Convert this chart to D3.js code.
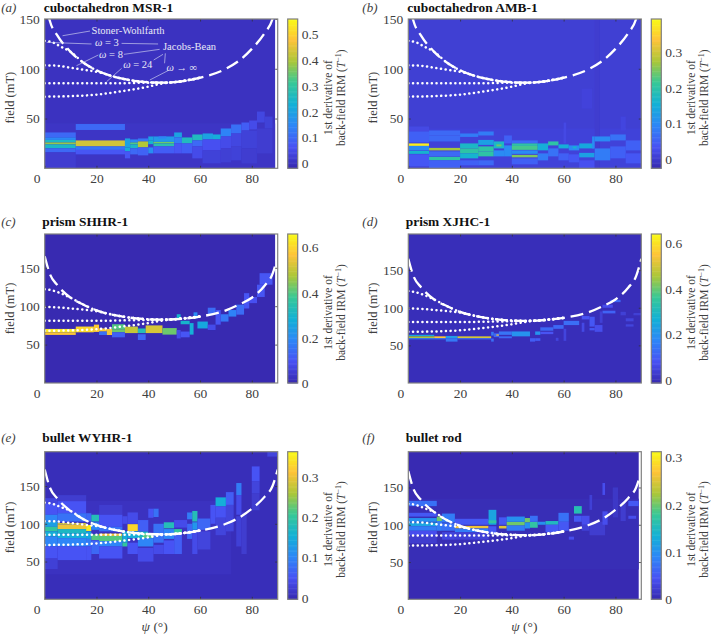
<!DOCTYPE html>
<html>
<head>
<meta charset="utf-8">
<script src="https://cdn.jsdelivr.net/npm/d3@7"></script>
<style>
  body { margin: 0; background: #fff; }
  text { font-family: "Liberation Serif", serif; fill: #404040; }
</style>
</head>
<body>
<div id="chart"></div>
<script>
// psi from, psi to, field from, field to, value
var cellsA = [
  [0,89,0,150,0],[0,89,0,45,0.006],
  [0,12,31,36,0.1],[0,12,28.5,31,0.15],[0,12,26,28.5,0.25],[0,12,24,26,0.38],[0,12,20,24,0.25],[0,12,16,20,0.1],[0,12,0,16,0.02],
  [12,31,38.5,44.5,0.1],[12,31,22,28,0.43],[12,31,18.5,22,0.12],[12,31,14,18.5,0.07],
  [31,33,21,30,0.2],[31,33,17,21,0.22],[31,33,10,17,0.07],
  [33,36,26,29,0.15],[33,36,24,26,0.33],[33,36,20,24,0.25],[33,36,14,20,0.1],
  [36,40,27,30,0.12],[36,40,21,27,0.4],[36,40,13,21,0.09],
  [40,42,28,32,0.2],[40,42,24,28,0.24],[40,42,21,24,0.02],[40,42,15,21,0.16],
  [42,50,26.5,32,0.18],[42,50,25,26.5,0.35],[42,50,22,25,0.28],[42,50,15,22,0.08],
  [44,47,30,32,0.14],
  [50,53,31,36,0.2],[50,53,25,31,0.13],[50,53,15,25,0.07],
  [53,57,25,31,0.26],[53,57,15,25,0.08],
  [57,61,28,34,0.26],[57,61,22,28,0.1],[57,61,10,22,0.05],
  [61,65,29,35,0.2],[65,68,29,34,0.22],[61,68,18,29,0.06],[61,68,5,18,0.03],
  [68,72,32,40,0.14],[68,72,20,32,0.05],[68,72,6,20,0.025],
  [72,76,35,44,0.11],[72,76,22,35,0.04],[72,76,8,22,0.03],
  [76,79,38,46,0.08],[79,82,39,48,0.05],[76,82,20,38,0.03],[76,82,5,20,0.02],
  [82,85,46,57,0.04],[85,88,40,52,0.03],[82,88,15,40,0.02]
];
var cellsB = [
  [0,90,0,150,0.005],[0,90,0,40,0.01],
  [0,8,37,42,0.02],[0,8,26,37,0.05],[0,8,22.5,25,0.38],[0,8,18,22.5,0.1],[0,8,14.5,17.5,0.16],[0,8,2,14,0.04],
  [8,20,33,38,0.06],[8,20,27,33,0.06],[8,20,18,20.5,0.27],[8,20,12,17,0.06],[8,20,8,11.5,0.2],[8,20,0,8,0.05],
  [20,27,31.5,35,0.08],[20,27,20,25,0.17],[20,27,15,20,0.2],[20,27,10,15,0.16],[20,27,3,8,0.05],
  [27,33,33,37,0.08],[27,33,23.5,28.5,0.13],[27,33,17,22,0.2],[27,33,12,17,0.2],[27,33,3,8,0.06],
  [33,37,20,27,0.17],[33,37,12,18,0.1],[34,36,22,24,0.24],
  [37,40,25,33,0.05],[37,40,12,23,0.1],
  [40,50,25,28,0.06],[40,50,22.5,25,0.2],[40,50,18.5,22.5,0.22],[40,50,14.5,18,0.1],[40,50,11,13.5,0.25],[40,50,4,10,0.05],
  [50,54,18,25,0.15],[50,54,8,15,0.08],
  [54,58,23,27,0.2],[54,58,12,20,0.07],
  [58,62,20,24,0.15],[58,62,8,15,0.05],[60,61,25,46,0.02],
  [62,66,18,23,0.1],[63.5,65,20,22,0.16],[62,66,6,14,0.04],
  [66,72,20,25,0.14],[66,72,11,15.5,0.13],[66,72,0,8,0.03],[67,71,60,80,0.012],
  [71,73,20,32,0.1],[72,74,0,150,0.001],[72,78,27,32,0.1],[72,78,8,20,0.08],
  [78,84,28,34,0.07],[78,84,10,22,0.05],
  [84,90,18,28,0.05],[84,90,5,15,0.04],[82,84,38,52,0.015]
];
var cellsC = [
  [0,89,0,194,0.002],
  [0,12,65.7,70.4,0.63],[0,12,62.6,65.7,0.56],
  [12,19,66,73.5,0.6],[19,21,66.5,76,0.58],[21,24,67,71,0.58],[21,24,62.5,67,0.15],[24,26,62.5,70.5,0.55],
  [26,31,70,76.5,0.4],[26,31,66,70,0.42],[26,31,59.5,66,0.12],
  [31,36,65,73.5,0.5],[36,39,65,71,0.33],[36,39,56,63.5,0.13],
  [39,45.5,65,75,0.52],[45.5,51,63,71.5,0.42],
  [51,52.5,82,89.5,0.3],[51,52.5,58,69,0.08],[52.5,56,76.5,81,0.3],[52.5,56,59.5,67,0.1],
  [56,57.5,63,78,0.28],[57.5,59,84,92,0.2],[59,63,71,80,0.26],
  [63,66,89.5,98,0.14],[63,66,69,76,0.08],[66,68,76,95,0.1],
  [68,71,80,89.5,0.16],[71,74,86.5,95,0.18],[74,77,89,102,0.14],
  [77,79,97,117,0.1],[79,82,104,112,0.09],[82,85,112,128,0.1],[83,88,128,143,0.1]
];
var cellsD = [
  [0,90,0,198,0],
  [0,10,62.5,64,0.25],[0,10,59.5,62,0.45],[0,10,58,59.5,0.15],
  [10,14.5,59.5,62,0.55],[10,14.5,58,59.5,0.15],
  [14.5,19,59.5,62.5,0.22],[14.5,19,55,59.5,0.15],
  [19,32,59.5,62,0.5],[19,32,58,59.5,0.13],
  [32,33,63,68,0.15],[32,33,55,59,0.13],[33,35,61,66,0.12],[34,35,63,64.5,0.55],
  [35,40,64,68.5,0.14],[35,40,59.5,62,0.12],[40,47,62,68.5,0.2],
  [47,49,55,59.5,0.1],[49,51,64,68.5,0.2],[49,51,56,59.5,0.1],
  [51,56,69.5,74,0.12],[51,56,65,68,0.08],[56,60,72,77,0.12],[57,58,56,60,0.05],[60,66,77,82.5,0.13],[60,61,56,72,0.05],
  [67,70,84.5,89,0.08],[67,68,68,80,0.06],[70,72,75,88,0.09],[72,75,68,77,0.07],[70,72,70,73,0.09],
  [75,80,92.5,96,0.11],[75,79,100,104,0.07],[78,82,107.5,110.5,0.12],[74,75,80,95,0.04],
  [82,84,90,94.5,0.04],[84,87,75,78,0.05],[84,87,82,86,0.05],[87,90,90,93,0.04]
];
var cellsE = [
  [0,90,0,195.5,0.003],[0,72,33,130,0.008],
  [0,5,127,134,0.03],[0,5,112,127,0.05],[0,5,103,112,0.1],[0,5,96,103,0.13],[0,5,90,96,0.2],[0,5,83,90,0.15],[0,5,70,83,0.1],[0,5,54,70,0.05],[0,5,40,54,0.025],
  [5,16,130,138,0.02],[5,16,114,130,0.05],[5,16,103,114,0.08],[5,16,99,101,0.28],[5,16,93,99,0.3],[5,16,87,93,0.17],[5,16,81,87,0.15],[5,16,70,81,0.1],[5,16,52,70,0.05],
  [16,18,103,114,0.07],[16,18,90.5,98.5,0.35],[16,18,80,90,0.14],[16,18,70,80,0.09],[16,18,52,70,0.05],
  [18,21,103,112,0.18],[18,21,92,102,0.1],[18,21,78.5,86,0.22],[18,21,60,78,0.07],
  [21,30,112,125,0.02],[21,30,96,112,0.05],[21,30,90,96,0.08],[21,30,84,87,0.32],[21,30,77,84,0.22],[21,30,70,77,0.1],[21,30,54,70,0.05],
  [30,32,75,90,0.15],[30,32,70,75,0.2],[30,32,100,110,0.04],
  [32,36,90.5,99.5,0.33],[32,36,81,90,0.15],[32,36,100,115,0.04],[32,36,60,75,0.05],
  [36,40,81,90,0.17],[38,42,81,87,0.22],[36,42,70,81,0.1],[36,40,90,105,0.06],[36,42,50,68,0.04],
  [40,42,108,120,0.05],[42,44,109,120,0.08],[42,46,75,100,0.08],[42,46,60,72,0.04],
  [46,50,94,102,0.18],[46,50,80,93,0.1],[46,50,60,78,0.05],
  [50,53,87,93,0.2],[50,53,60,87,0.06],[50,55,95,105,0.04],
  [55,57,106,115,0.09],[55,57,80,100,0.07],[57,59,103,117,0.18],[57,59,92,102,0.12],[57,59,60,92,0.04],
  [59,64,92,107,0.07],[59,64,66,90,0.03],[64,66,100,125,0.05],
  [66,70,123,135,0.15],[66,70,108,123,0.05],[66,70,85,108,0.03],
  [70,73,125,142,0.06],[70,73,90,125,0.03],[74,76,138,154,0.09],[74,76,112,138,0.04],[74,76,70,110,0.025],
  [76,78,60,115,0.02],[80,83,156,176,0.05],[80,83,140,156,0.03],[80,83,118,140,0.02],[86,90,189,195.5,0.03]
];
var cellsF = [
  [0,89,0,198,0.001],[0,89,40,135,0.004],
  [0,11,125,132,0.07],[0,11,111,116,0.05],[0,11,104,109,0.1],[0,11,98,103,0.12],[0,11,92,98,0.08],[0,11,86,92,0.04],[0,11,75,86,0.02],
  [11,13,105,111,0.2],[11,13,92,105,0.08],[13,18,103,115,0.08],[13,18,92,102,0.07],[13,18,80,90,0.03],
  [18,31,95,98.5,0.26],[18,31,100,108,0.05],[18,31,90,95,0.08],[18,31,80,90,0.025],
  [31,34,100,120,0.12],[31,34,102,106,0.17],[31,34,88,98,0.05],
  [35,38,95,98.5,0.25],[35,38,100,110,0.05],[38,45,99,104,0.2],[38,45,104,111,0.1],[38,45,92,99,0.08],
  [45,47,103,109,0.2],[45,47,95,103,0.1],[47,50,96,104,0.17],[47,50,104,112,0.07],[50,53,100,104,0.1],
  [53,58,100,105,0.15],[53,58,90,100,0.05],[58,62,104,116,0.07],[58,62,92,104,0.05],
  [62,64,80,84,0.04],[64,67,115,125,0.16],[64,67,104,112,0.05],[67,70,100,112,0.04],[67,70,92,100,0.025],
  [70,76,86,104,0.02],[75,76,140,156,0.04],[70,71,120,140,0.025],[79,81,110,150,0.015],[82,84,105,130,0.02],
  [85,89,125,132,0.05],[85,88,108,112,0.04],[75,77,100,118,0.04]
];

// Stoner-Wohlfarth and Jacobs-Bean curves, [psi, field mT]
var swLarge = [[0,172],[2,148],[5,133],[10,117],[15,106],[20,98.5],[30,90],[40,86.5],[45,86],[50,86.5],[60,91],[70,100],[75,108],[80,120],[85,136],[88,150],[90,172]];
var w3Large = [[0,128],[3,126.5],[6,122.5],[10,117],[15,106],[20,98.5],[30,90],[40,86.5],[45,86],[50,86.5],[60,91]];
var w8Large = [[0,103.5],[5,103],[10,101],[15,99],[20,97],[30,90],[40,86.5],[45,86],[50,86.5],[60,91]];
var w24Large = [[0,85.5],[10,85.5],[20,85.5],[30,85.5],[38,86],[45,86],[50,86.5],[60,91]];
var wInfLarge = [[0,72],[10,72.5],[20,74],[30,77.5],[40,82],[45,85],[50,86.5],[60,91]];
var swSmall = [[0,165],[2,142],[5,127],[10,111],[15,102],[20,94.5],[30,86.5],[40,83],[45,82.5],[50,83],[60,86.5],[70,94.5],[75,102],[80,111],[85,127],[88,142],[90,165]];
var w3Small = [[0,122],[3,120.5],[6,117],[10,111],[15,102],[20,94.5],[30,86.5],[40,83],[45,82.5],[50,83],[60,86.5]];
var w8Small = [[0,99],[5,98.5],[10,97],[15,95.5],[20,93.5],[30,86.5],[40,83],[45,82.5],[50,83],[60,86.5]];
var w24Small = [[0,81],[10,81],[20,81],[30,81.5],[38,82],[45,82.5],[50,83],[60,86.5]];
var wInfSmall = [[0,68],[10,68.5],[20,70],[30,73.5],[40,78],[45,81],[50,83],[60,86.5]];

var panels = [
  {letter:"a", title:"cuboctahedron MSR-1", cells:cellsA, fieldMax:150, cRange:[-0.019,0.559], cTicks:[0,0.1,0.2,0.3,0.4,0.5], sw:swLarge, dots:[w3Large,w8Large,w24Large,wInfLarge]},
  {letter:"b", title:"cuboctahedron AMB-1", cells:cellsB, fieldMax:150, cRange:[-0.026,0.393], cTicks:[0,0.1,0.2,0.3], sw:swLarge, dots:[w3Large,w8Large,w24Large,wInfLarge]},
  {letter:"c", title:"prism SHHR-1", cells:cellsC, fieldMax:194, cRange:[0,0.66], cTicks:[0,0.2,0.4,0.6], sw:swSmall, dots:[w3Small,w8Small,w24Small,wInfSmall]},
  {letter:"d", title:"prism XJHC-1", cells:cellsD, fieldMax:198, cRange:[-0.012,0.639], cTicks:[0,0.2,0.4,0.6], sw:swSmall, dots:[w3Small,w8Small,w24Small,wInfSmall]},
  {letter:"e", title:"bullet WYHR-1", cells:cellsE, fieldMax:195.5, cRange:[-0.004,0.364], cTicks:[0,0.1,0.2,0.3], sw:swLarge, dots:[w3Large,w8Large,w24Large,wInfLarge]},
  {letter:"f", title:"bullet rod", cells:cellsF, fieldMax:198, cRange:[0,0.312], cTicks:[0,0.1,0.2,0.3], sw:swLarge, dots:[w3Large,w8Large,w24Large,wInfLarge]}
];

// labels and leader lines of panel (a), in psi / field units
var noteLabels = [
  {text:"Stoner-Wohlfarth", psi:18.1, field:135.4},
  {omega:" = 3", psi:19.4, field:122.5},
  {omega:" = 8", psi:21, field:110.5},
  {text:"Jacobs-Bean", psi:45.7, field:118.8},
  {omega:" = 24", psi:30.3, field:100.4},
  {omega:" → ∞", psi:47, field:98}
];
var noteLines = [
  [6.9,133.2,17.5,137.9],[0.8,126.5,18.1,124.9],[29.7,125.5,43.8,124.9],
  [12.3,103.1,20.7,113.8],[30.6,114.5,44.4,119.5],[23.9,87,29.7,100.4],
  [42.1,108.8,45.7,114.5],[40.6,88.7,47.6,98.1],[46.6,115.5,46.3,105.5]
];

// parula
var parulaStops = ["#372ab0","#4852f4","#2d87f7","#12b1d6","#37c897","#abc739","#fec338","#f9fb15"];

var colLeft = [44.7, 408.3], rowTop = [19, 234, 451.7], rowBottom = [168.3, 383, 599.3];
var fieldLabelShift = [4, 0, 2], titleRise = [7.5, 8.5, 10], titleInset = [1, 2.5, 2.5], letterInset = [43.5, 46], xLabelShift = [-6.5, -0.5];
var plotW = 233, cbGap = 10, cbW = 10;

var svg = d3.select("#chart").append("svg").attr("width", 711).attr("height", 635);
// the source is a soft raster
svg.append("defs").append("filter").attr("id", "soft")
  .attr("x", "-2%").attr("y", "-2%").attr("width", "104%").attr("height", "104%")
  .append("feGaussianBlur").attr("stdDeviation", 0.5);
var parula = d3.scaleLinear().domain(d3.range(parulaStops.length).map(function (i) { return i / (parulaStops.length - 1); })).range(parulaStops);

panels.forEach(function (p, i) {
  var row = Math.floor(i / 2), col = i % 2;
  var left = colLeft[col], top = rowTop[row], bottom = rowBottom[row];
  var x = d3.scaleLinear().domain([0, 90]).range([left, left + plotW]);
  var y = d3.scaleLinear().domain([0, p.fieldMax]).range([bottom, top]);
  var c = d3.scaleLinear().domain(p.cRange).range([0, 1]);
  var g = svg.append("g");

  g.append("clipPath").attr("id", "clip" + i).append("rect")
    .attr("x", left).attr("y", top).attr("width", plotW).attr("height", bottom - top);

  var clipped = g.append("g").attr("clip-path", "url(#clip" + i + ")");
  clipped.append("g").attr("filter", "url(#soft)").selectAll("rect").data(p.cells).enter().append("rect")
    .attr("x", function (d) { return x(d[0]); })
    .attr("width", function (d) { return x(d[1]) - x(d[0]); })
    .attr("y", function (d) { return y(d[3]); })
    .attr("height", function (d) { return y(d[2]) - y(d[3]); })
    .attr("fill", function (d) { return parula(c(d[4])); });

  // curves
  var line = d3.line().x(function (d) { return x(d[0]); }).y(function (d) { return y(d[1]); }).curve(d3.curveMonotoneX);
  clipped.append("path").attr("d", line(p.sw)).attr("fill", "none").attr("stroke", "#fff")
    .attr("stroke-width", 2.3).attr("stroke-dasharray", "13,6");
  p.dots.forEach(function (w) {
    clipped.append("path").attr("d", line(w)).attr("fill", "none").attr("stroke", "#fff")
      .attr("stroke-width", 2.5).attr("stroke-linecap", "round").attr("stroke-dasharray", "0.1,4.6");
  });

  // axes, ticks point inward on all sides
  var xTicks = [0, 20, 40, 60, 80], yTicks = [50, 100, 150];
  var frame = function (sel) {
    sel.select(".domain").remove();
    sel.selectAll("line").attr("stroke", "#333").attr("stroke-width", 0.8);
    sel.selectAll("text").attr("font-size", 13.5).style("fill", "#404040");
  };
  var bx = g.append("g").attr("transform", "translate(0," + bottom + ")")
    .call(d3.axisBottom(x).tickValues(xTicks).tickSize(-2.5).tickPadding(5.5).tickFormat(d3.format("d"))).call(frame);
  bx.selectAll("text").attr("dx", function (d) { return d === 0 ? -8 : 0; });
  g.append("g").attr("transform", "translate(0," + top + ")")
    .call(d3.axisTop(x).tickValues(xTicks.slice(1)).tickSize(-2.5).tickFormat("")).call(frame);
  g.append("g").attr("transform", "translate(" + left + ",0)")
    .call(d3.axisLeft(y).tickValues(yTicks).tickSize(-2.5).tickPadding(5)).call(frame);
  g.append("g").attr("transform", "translate(" + (left + plotW) + ",0)")
    .call(d3.axisRight(y).tickValues(yTicks).tickSize(-2.5).tickFormat("")).call(frame);
  g.append("rect").attr("x", left).attr("y", top).attr("width", plotW).attr("height", bottom - top)
    .attr("fill", "none").attr("stroke", "#808080").attr("stroke-width", 1.2);

  // titles
  g.append("text").attr("x", left - titleInset[row]).attr("y", top - titleRise[row]).attr("font-size", 13.4).attr("font-weight", "bold").style("fill", "#111").text(p.title);
  g.append("text").attr("x", left - letterInset[col]).attr("y", top - titleRise[row]).attr("font-size", 13).attr("font-style", "italic").text("(" + p.letter + ")");
  g.append("text").attr("transform", "translate(" + (left - 31) + "," + ((top + bottom) / 2 + fieldLabelShift[row]) + ") rotate(-90)")
    .attr("text-anchor", "middle").attr("font-size", 12.5).text("field (mT)");
  if (i >= 4) {
    var xl = g.append("text").attr("x", x(45) + xLabelShift[col]).attr("y", 631).attr("text-anchor", "middle").attr("font-size", 13.5);
    xl.append("tspan").attr("font-style", "italic").text("ψ");
    xl.append("tspan").text(" (°)");
  }

  // colour bar
  var cbX = left + plotW + cbGap;
  var cy = d3.scaleLinear().domain(p.cRange).range([bottom, top]);
  var steps = d3.range(0, 1, 1 / 120);
  g.selectAll("rect.step").data(steps).enter().append("rect").attr("class", "step")
    .attr("x", cbX).attr("width", cbW)
    .attr("y", function (d) { return bottom - (d + 1 / 120) * (bottom - top); })
    .attr("height", (bottom - top) / 120 + 0.5)
    .attr("fill", function (d) { return parula(d); });
  g.append("g").attr("transform", "translate(" + (cbX + cbW) + ",0)")
    .call(d3.axisRight(cy).tickValues(p.cTicks).tickSize(0).tickPadding(4).tickFormat(function (d) { return d === 0 ? "0" : d3.format(".1f")(d); })).call(frame);
  g.append("rect").attr("x", cbX).attr("y", top).attr("width", cbW).attr("height", bottom - top)
    .attr("fill", "none").attr("stroke", "#808080").attr("stroke-width", 1.2);
  var lab = g.append("text").attr("transform", "translate(" + (cbX + 44) + "," + ((top + bottom) / 2 + 4) + ") rotate(-90)")
    .attr("text-anchor", "middle").attr("font-size", 11.5);
  lab.append("tspan").text("1st derivative of");
  var l2 = lab.append("tspan").attr("x", 0).attr("dy", 13);
  l2.append("tspan").text("back-field IRM (");
  l2.append("tspan").attr("font-style", "italic").text("T");
  l2.append("tspan").attr("dy", -4).attr("font-size", 8).text("−1");
  l2.append("tspan").attr("dy", 4).text(")");

  if (i === 0) {
    g.selectAll("line.note").data(noteLines).enter().append("line").attr("class", "note")
      .attr("x1", function (d) { return x(d[0]); }).attr("y1", function (d) { return y(d[1]); })
      .attr("x2", function (d) { return x(d[2]); }).attr("y2", function (d) { return y(d[3]); })
      .attr("stroke", "#dfe3f5").attr("stroke-width", 0.6);
    noteLabels.forEach(function (n) {
      var t = g.append("text").attr("x", x(n.psi)).attr("y", y(n.field)).attr("font-size", 10.5).style("fill", "#e8e8f6");
      if (n.omega) {
        t.append("tspan").attr("font-style", "italic").style("fill", "#e8e8f6").text("ω");
        t.append("tspan").style("fill", "#e8e8f6").text(n.omega);
      } else {
        t.text(n.text);
      }
    });
  }
});
</script>
</body>
</html>
